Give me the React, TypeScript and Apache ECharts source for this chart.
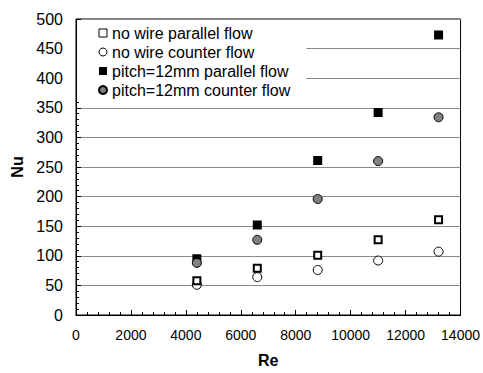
import React, { useEffect, useRef } from "react";
import * as echarts from "echarts";

const reValues = [4400, 6600, 8800, 11000, 13200];
const noWireParallel = [58, 79, 101, 127, 161];
const noWireCounter = [51, 64, 76, 92, 107];
const pitchParallel = [95, 152, 261, 342, 473];
const pitchCounter = [88, 127, 196, 260, 334];
const seriesNames = [
  "no wire parallel flow",
  "no wire counter flow",
  "pitch=12mm parallel flow",
  "pitch=12mm counter flow",
];

const pairs = (ys: number[]) => reValues.map((x, i) => [x, ys[i]]);

export default function App() {
  const ref = useRef<HTMLDivElement>(null);
  useEffect(() => {
    if (!ref.current) return;
    const chart = echarts.init(ref.current, undefined, { renderer: "svg" });
    const font = "'Liberation Sans', Arial, sans-serif";
    chart.setOption({
      animation: false,
      textStyle: { fontFamily: font },
      grid: {
        left: 76,
        right: 21,
        top: 19,
        bottom: 53,
        show: true,
        borderColor: "#000",
        borderWidth: 1,
        backgroundColor: "transparent",
      },
      legend: {
        left: 77,
        top: 20,
        orient: "vertical",
        padding: [5, 16, 2, 21],
        itemGap: 3,
        itemWidth: 8,
        itemHeight: 8,
        backgroundColor: "#fff",
        textStyle: { fontFamily: font, fontSize: 16, color: "#000", lineHeight: 16 },
        data: [
          { name: seriesNames[0], icon: "rect", itemStyle: { color: "#fff", borderColor: "#000", borderWidth: 1 } },
          { name: seriesNames[1], icon: "circle", itemStyle: { color: "#fff", borderColor: "#000", borderWidth: 1 } },
          { name: seriesNames[2], icon: "rect" },
          { name: seriesNames[3], icon: "circle" },
        ],
      },
      xAxis: {
        type: "value",
        min: 0,
        max: 14000,
        interval: 2000,
        name: "Re",
        nameLocation: "middle",
        nameGap: 37,
        nameTextStyle: { fontFamily: font, fontSize: 16, fontWeight: "bold", color: "#000" },
        axisLine: { show: true, lineStyle: { color: "#000", width: 1 } },
        axisTick: { show: true, inside: true, length: 5, lineStyle: { color: "#000" } },
        minorTick: { show: true, splitNumber: 5, length: 3, lineStyle: { color: "#000" } },
        axisLabel: {
          fontFamily: font,
          fontSize: 14,
          color: "#000",
          margin: 13,
          formatter: (v: number) => String(v),
        },
        splitLine: { show: false },
      },
      yAxis: {
        type: "value",
        min: 0,
        max: 500,
        interval: 50,
        name: "Nu",
        nameLocation: "middle",
        nameGap: 49,
        nameTextStyle: { fontFamily: font, fontSize: 16, fontWeight: "bold", color: "#000" },
        axisLine: { show: true, lineStyle: { color: "#000", width: 1 } },
        axisTick: { show: true, inside: true, length: 5, lineStyle: { color: "#000" } },
        minorTick: { show: true, splitNumber: 5, length: 3, lineStyle: { color: "#000" } },
        axisLabel: {
          fontFamily: font,
          fontSize: 16,
          color: "#000",
          margin: 13,
          formatter: (v: number) => String(v),
        },
        splitLine: { show: true, lineStyle: { color: "#8a8a8a", width: 1 } },
      },
      series: [
        {
          name: seriesNames[0],
          type: "scatter",
          symbol: "rect",
          symbolSize: 7,
          z: 3,
          itemStyle: { color: "#fff", borderColor: "#000", borderWidth: 2, opacity: 1 },
          data: pairs(noWireParallel),
        },
        {
          name: seriesNames[1],
          type: "scatter",
          symbol: "circle",
          symbolSize: 9,
          z: 2,
          itemStyle: { color: "#fff", borderColor: "#000", borderWidth: 1, opacity: 1 },
          data: pairs(noWireCounter),
        },
        {
          name: seriesNames[2],
          type: "scatter",
          symbol: "rect",
          symbolSize: 9,
          z: 2,
          itemStyle: { color: "#000", opacity: 1 },
          data: pairs(pitchParallel),
        },
        {
          name: seriesNames[3],
          type: "scatter",
          symbol: "circle",
          symbolSize: 9,
          z: 3,
          itemStyle: { color: "#808080", borderColor: "#000", borderWidth: 1, opacity: 1 },
          data: pairs(pitchCounter),
        },
      ],
    });
    return () => chart.dispose();
  }, []);
  return <div ref={ref} style={{ width: 483, height: 373, position: "absolute", left: 0, top: 0 }} />;
}
